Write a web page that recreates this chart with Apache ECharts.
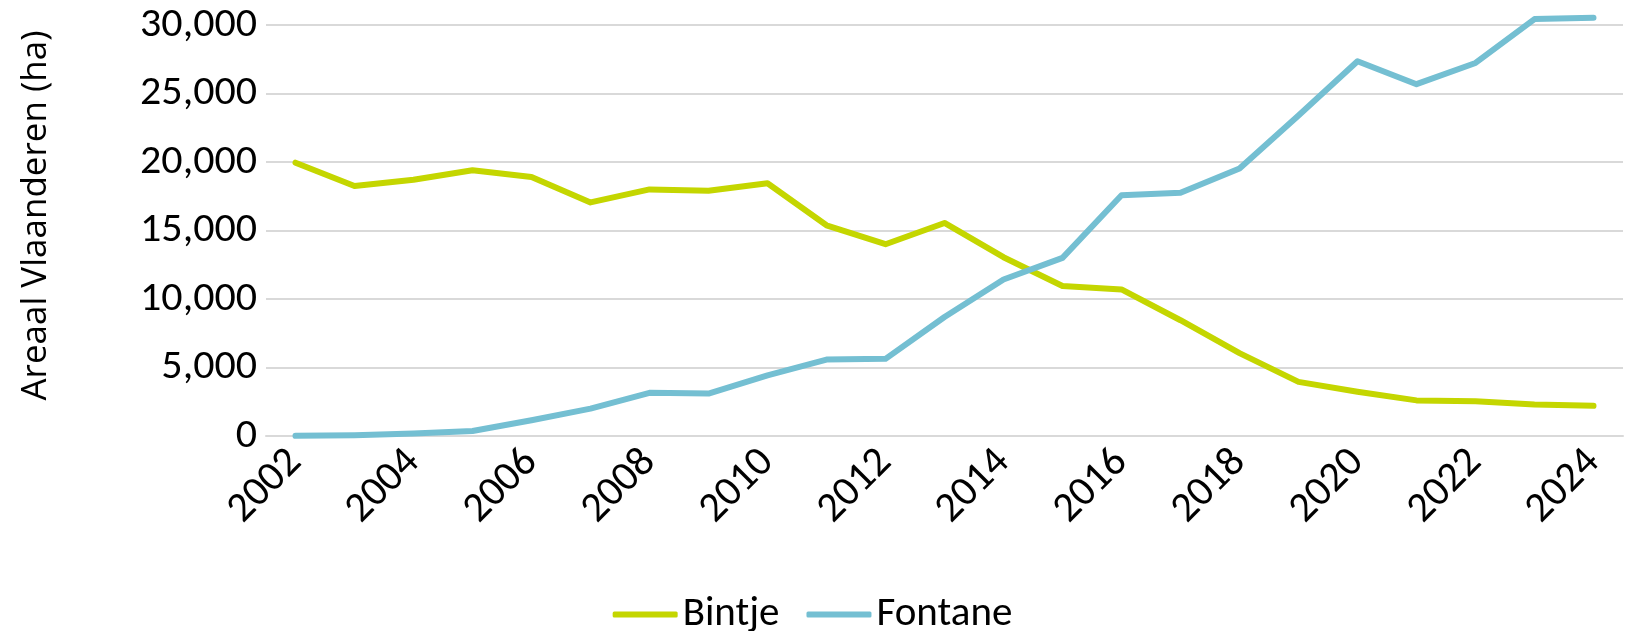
<!DOCTYPE html>
<html>
<head>
<meta charset="utf-8">
<script src="https://cdn.jsdelivr.net/npm/echarts@6/dist/echarts.min.js"></script>
<style>
  html, body { margin: 0; padding: 0; background: #fff; }
  #chart { width: 1625px; height: 631px; }
</style>
</head>
<body>
<div id="chart"></div>
<script>
const years = ['2002', '2003', '2004', '2005', '2006', '2007', '2008', '2009', '2010', '2011', '2012',
  '2013', '2014', '2015', '2016', '2017', '2018', '2019', '2020', '2021', '2022', '2023', '2024'];
const bintje = [19950, 18250, 18700, 19400, 18900, 17050, 18000, 17900, 18450, 15380, 14000,
  15550, 13050, 10950, 10700, 8450, 6050, 3950, 3230, 2600, 2530, 2300, 2200];
const fontane = [10, 50, 180, 370, 1150, 2000, 3150, 3100, 4430, 5580, 5630,
  8690, 11420, 13000, 17570, 17750, 19520, 23400, 27350, 25680, 27230, 30430, 30530];

const fontFamily = 'Carlito, "Open Sans", sans-serif';
const chart = echarts.init(document.getElementById('chart'));

chart.setOption({
  animation: false,
  textStyle: { fontFamily },
  grid: { left: 266, right: 2, top: 25, bottom: 195 },
  legend: {
    left: 'center',
    top: 589,
    icon: 'roundRect',
    itemWidth: 65,
    itemHeight: 6,
    itemGap: 27,
    textStyle: { fontSize: 41, color: '#000', fontFamily },
    data: ['Bintje', 'Fontane'],
  },
  xAxis: {
    type: 'category',
    data: years,
    boundaryGap: true,
    axisLine: { show: true, lineStyle: { color: '#d9d9d9', width: 2 } },
    axisTick: { show: false },
    axisLabel: {
      interval: 1,
      rotate: 45,
      fontSize: 42,
      color: '#000',
      margin: 20,
      fontFamily,
    },
  },
  yAxis: {
    type: 'value',
    min: 0,
    max: 30000,
    interval: 5000,
    name: 'Areaal Vlaanderen (ha)',
    nameLocation: 'middle',
    nameGap: 212,
    nameTextStyle: { fontSize: 35, color: '#000', fontFamily: '"Open Sans", sans-serif', padding: [0, 0, 0, 30] },
    axisLine: { show: false },
    axisTick: { show: false },
    splitLine: { lineStyle: { color: '#d9d9d9', width: 2 } },
    axisLabel: {
      fontSize: 42,
      color: '#000',
      margin: 9,
      fontFamily,
      formatter: (v) => v.toLocaleString('en-US'),
    },
  },
  series: [
    {
      name: 'Bintje',
      type: 'line',
      data: bintje,
      symbol: 'none',
      clip: false,
      color: '#c4d600',
      lineStyle: { width: 6, cap: 'round', join: 'round' },
    },
    {
      name: 'Fontane',
      type: 'line',
      data: fontane,
      symbol: 'none',
      clip: false,
      color: '#74bfd2',
      lineStyle: { width: 6, cap: 'round', join: 'round' },
    },
  ],
});
</script>
</body>
</html>
